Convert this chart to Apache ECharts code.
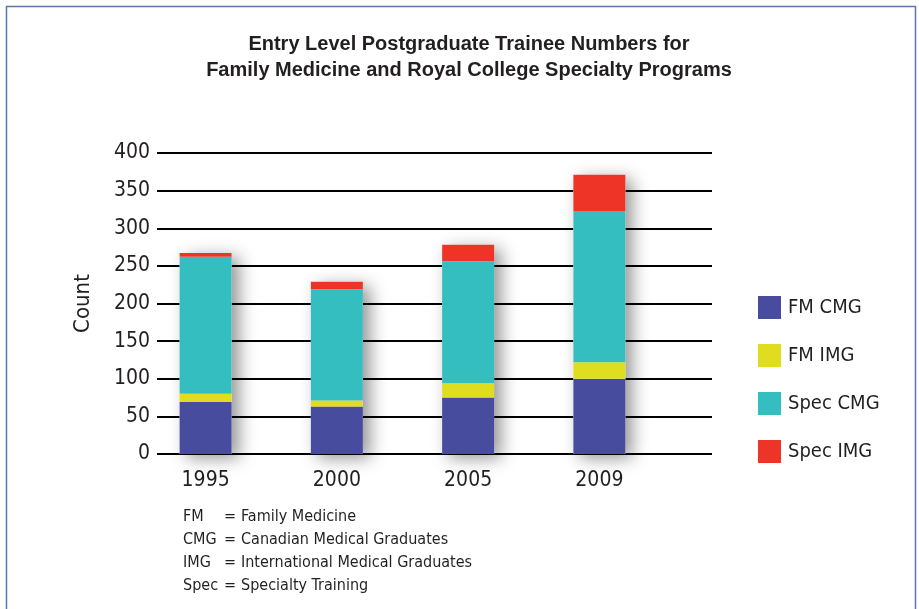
<!DOCTYPE html>
<html>
<head>
<meta charset="utf-8">
<script src="https://cdn.jsdelivr.net/npm/echarts@6/dist/echarts.min.js"></script>
<style>
  html, body { margin: 0; padding: 0; background: #fff; }
  #chart { width: 919px; height: 609px; }
</style>
</head>
<body>
<div id="chart"></div>
<script>
const years = ['1995', '2000', '2005', '2009'];
const fmCmg = [69, 63, 75, 100];
const fmImg = [11, 8, 19, 22];
const specCmg = [182, 148, 162, 201];
const specImg = [5, 10, 22, 48];
const yTicks = [0, 50, 100, 150, 200, 250, 300, 350, 400];
const noteAbbr = ['FM', 'CMG', 'IMG', 'Spec'];
const noteText = ['Family Medicine', 'Canadian Medical Graduates', 'International Medical Graduates', 'Specialty Training'];

const font = "'Liberation Sans Narrow', 'DejaVu Sans Condensed', 'Liberation Sans', sans-serif";
const ink = '#231f20';

const totals = years.map((y, i) => fmCmg[i] + fmImg[i] + specCmg[i] + specImg[i]);

const chart = echarts.init(document.getElementById('chart'));

const barSeries = (name, data, color) => ({
    name: name,
    type: 'bar',
    stack: 'all',
    xAxisIndex: 0,
    yAxisIndex: 0,
    barWidth: 52,
    barGap: '-100%',
    itemStyle: {color: color},
    data: data,
    z: 3
});

// footnote: abbreviation, "=" and meaning in three columns
const notes = [];
noteAbbr.forEach((a, i) => {
    const top = 509 + i * 23;
    notes.push({type: 'text', left: 183, top: top, style: {text: a, font: '16px ' + font, fill: ink}});
    notes.push({type: 'text', left: 224, top: top, style: {text: '=', font: '16px ' + font, fill: ink}});
    notes.push({type: 'text', left: 241, top: top, style: {text: noteText[i], font: '16px ' + font, fill: ink}});
});

chart.setOption({
    animation: false,
    backgroundColor: '#fff',
    title: {
        text: 'Entry Level Postgraduate Trainee Numbers for\nFamily Medicine and Royal College Specialty Programs',
        left: 464,
        textAlign: 'center',
        top: 26,
        textStyle: {
            fontFamily: "'Liberation Sans', Arial, sans-serif",
            fontWeight: 'bold',
            fontSize: 20,
            lineHeight: 26,
            color: ink
        }
    },
    legend: {
        data: ['FM CMG', 'FM IMG', 'Spec CMG', 'Spec IMG'],
        orient: 'vertical',
        left: 753,
        top: 291,
        itemWidth: 23,
        itemHeight: 23,
        itemGap: 25,
        icon: 'rect',
        textStyle: {fontFamily: font, fontSize: 20, color: ink, padding: [0, 0, 0, 2]}
    },
    grid: [
        {left: 140, width: 525, top: 153, bottom: 155},
        {left: 157, right: 207, top: 153, bottom: 155}
    ],
    xAxis: [
        {
            type: 'category', gridIndex: 0, data: years,
            axisLine: {show: false}, axisTick: {show: false},
            axisLabel: {fontFamily: font, fontSize: 21, color: ink, margin: 16}
        },
        {
            type: 'category', gridIndex: 1, data: years, show: false
        }
    ],
    yAxis: [
        {
            type: 'value', gridIndex: 0, min: 0, max: 400, interval: 50,
            show: false, splitLine: {show: false}
        },
        {
            type: 'value', gridIndex: 1, min: yTicks[0], max: yTicks[yTicks.length - 1], interval: 50,
            name: 'Count', nameLocation: 'middle', nameGap: 63,
            nameTextStyle: {fontFamily: font, fontSize: 22, color: ink},
            axisLine: {show: false}, axisTick: {show: false},
            axisLabel: {fontFamily: font, fontSize: 21, color: ink, margin: 7},
            splitLine: {lineStyle: {color: '#000', width: 2}}
        }
    ],
    series: [
        {
            name: 'total',
            type: 'bar',
            xAxisIndex: 0,
            yAxisIndex: 0,
            barWidth: 52,
            data: totals,
            silent: true,
            itemStyle: {
                color: '#fff',
                shadowColor: 'rgba(0,0,0,0.42)',
                shadowBlur: 16,
                shadowOffsetX: 7,
                shadowOffsetY: 4
            },
            z: 2
        },
        barSeries('FM CMG', fmCmg, '#474c9f'),
        barSeries('FM IMG', fmImg, '#e0dc1e'),
        barSeries('Spec CMG', specCmg, '#35bec0'),
        barSeries('Spec IMG', specImg, '#ee3427')
    ],
    graphic: [
        {
            type: 'rect',
            shape: {x: 6.5, y: 6.5, width: 909, height: 640},
            style: {fill: 'none', stroke: '#5b78a6', lineWidth: 1.5},
            silent: true
        }
    ].concat(notes)
});
</script>
</body>
</html>
